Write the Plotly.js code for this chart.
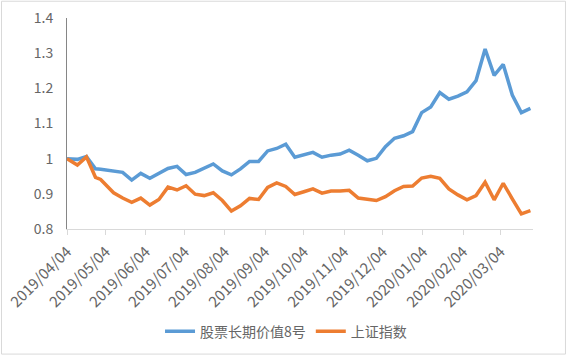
<!DOCTYPE html>
<html>
<head>
<meta charset="utf-8">
<script src="https://cdn.plot.ly/plotly-3.0.1.min.js"></script>
<style>
  html, body { margin: 0; padding: 0; background: #ffffff; }
  #chart { width: 568px; height: 359px; }
</style>
</head>
<body>
<div id="chart"></div>
<script>
const dates = [
  '2019-04-04','2019-04-12','2019-04-19','2019-04-26','2019-04-30','2019-05-10','2019-05-17','2019-05-24','2019-05-31',
  '2019-06-07','2019-06-14','2019-06-21','2019-06-28','2019-07-05','2019-07-12','2019-07-19','2019-07-26',
  '2019-08-02','2019-08-09','2019-08-16','2019-08-23','2019-08-30','2019-09-06','2019-09-13','2019-09-20','2019-09-27',
  '2019-10-04','2019-10-11','2019-10-18','2019-10-25','2019-11-01','2019-11-08','2019-11-15','2019-11-22','2019-11-29',
  '2019-12-06','2019-12-13','2019-12-20','2019-12-27','2020-01-03','2020-01-10','2020-01-17','2020-01-24','2020-01-31',
  '2020-02-07','2020-02-14','2020-02-21','2020-02-28','2020-03-06','2020-03-13','2020-03-20','2020-03-27'
];

const seriesNames = ['股票长期价值8号', '上证指数'];

const fundValues = [
  1.000, 0.998, 1.006, 0.971, 0.970, 0.966, 0.961, 0.939, 0.958, 0.944,
  0.958, 0.972, 0.978, 0.955, 0.961, 0.973, 0.985, 0.965, 0.954, 0.971,
  0.992, 0.992, 1.022, 1.029, 1.041, 1.004, 1.011, 1.018, 1.004, 1.010,
  1.013, 1.024, 1.010, 0.994, 1.001, 1.034, 1.058, 1.065, 1.077, 1.131,
  1.147, 1.188, 1.169, 1.178, 1.190, 1.222, 1.312, 1.237, 1.268, 1.181,
  1.131, 1.143
];

const indexValues = [
  1.000, 0.982, 1.005, 0.947, 0.941, 0.903, 0.888, 0.876, 0.888, 0.868,
  0.884, 0.919, 0.911, 0.923, 0.899, 0.895, 0.903, 0.881, 0.851, 0.866,
  0.887, 0.884, 0.918, 0.931, 0.921, 0.898, 0.906, 0.914, 0.902, 0.908,
  0.908, 0.910, 0.888, 0.884, 0.881, 0.892, 0.909, 0.921, 0.922, 0.945,
  0.950, 0.944, 0.914, 0.897, 0.883, 0.895, 0.933, 0.883, 0.930, 0.886,
  0.843, 0.852
];

const FONT = '"Noto Sans CJK SC", "Noto Sans", sans-serif';
const TXT = '#666666';

const traces = [
  { x: dates, y: fundValues, name: seriesNames[0], type: 'scatter', mode: 'lines',
    line: { color: '#5B9BD5', width: 3.5, shape: 'linear' } },
  { x: dates, y: indexValues, name: seriesNames[1], type: 'scatter', mode: 'lines',
    line: { color: '#ED7D31', width: 3.5, shape: 'linear' } }
];

const layout = {
  width: 568, height: 359,
  margin: { l: 67, r: 35, t: 18, b: 129 },
  paper_bgcolor: '#ffffff', plot_bgcolor: '#ffffff',
  font: { family: FONT, size: 14, color: TXT },
  showlegend: true,
  legend: {
    orientation: 'h', x: 0.47, xanchor: 'center', y: -0.48, yanchor: 'middle',
    font: { family: FONT, size: 14, color: TXT }, itemwidth: 30, traceorder: 'normal'
  },
  xaxis: {
    type: 'date',
    range: ['2019-04-04', '2020-03-29'],
    tick0: '2019-04-04', dtick: 'M1', tickformat: '%Y/%m/%d',
    tickangle: -45,
    showgrid: false, zeroline: false,
    showline: true, linecolor: '#d9d9d9', linewidth: 1,
    ticks: 'outside', ticklen: 5, tickcolor: '#d9d9d9', tickwidth: 1,
    ticklabelstandoff: 2,
    tickfont: { family: FONT, size: 15, color: TXT }
  },
  yaxis: {
    range: [0.8, 1.4], dtick: 0.1, tick0: 0.8,
    showgrid: false, zeroline: false,
    showline: true, linecolor: '#868686', linewidth: 1,
    ticks: '', ticklabelstandoff: 10,
    tickfont: { family: FONT, size: 14, color: TXT }
  },
  shapes: [{
    type: 'rect', xref: 'paper', yref: 'paper',
    x0: -0.1405, x1: 1.0697, y0: -0.5928, y1: 1.0794,
    line: { color: '#d9d9d9', width: 1 }, fillcolor: 'rgba(0,0,0,0)'
  }]
};

Plotly.newPlot('chart', traces, layout, { displayModeBar: false, staticPlot: true });
</script>
</body>
</html>
